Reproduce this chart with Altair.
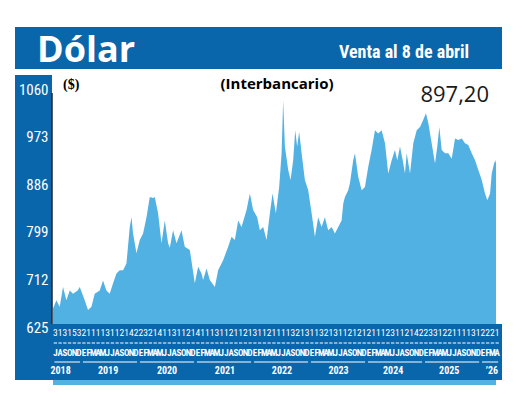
import altair as alt
import pandas as pd

# ---- data ----
# time position in months since 1 July 2018
month_pos = [0.0, 0.72, 1.41, 2.11, 2.82, 3.52, 4.21, 5.20, 5.63, 6.68, 7.37, 8.09, 8.78, 9.84,
             10.53, 11.25, 11.94, 12.64, 13.36, 14.05, 14.75, 15.46, 16.16, 16.52, 16.85, 17.57,
             18.26, 18.96, 19.68, 20.37, 21.07, 21.42, 22.12, 22.84, 23.53, 24.23, 24.58, 25.28,
             26.00, 27.05, 27.74, 28.80, 29.85, 30.55, 31.26, 31.60, 32.32, 33.01, 34.07, 34.76,
             35.81, 36.87, 37.58, 38.28, 38.98, 39.69, 40.74, 41.44, 42.13, 42.98, 43.54, 44.24,
             44.96, 45.65, 46.22, 46.91, 47.61, 48.12, 48.45, 48.81, 49.51, 50.01, 50.56, 50.98,
             51.40, 51.82, 52.33, 53.02, 53.72, 54.44, 55.13, 55.82, 56.54, 57.23, 57.93, 58.65,
             59.34, 60.04, 60.75, 61.10, 61.45, 62.14, 62.50, 63.20, 63.56, 64.25, 64.97, 65.66,
             66.36, 67.07, 67.77, 68.46, 69.18, 69.88, 70.57, 71.29, 71.98, 72.47, 73.04, 73.61,
             74.09, 74.45, 75.15, 75.84, 76.56, 77.26, 77.94, 78.51, 79.00, 79.71, 80.41, 80.89,
             81.32, 81.82, 82.52, 83.21, 83.93, 84.62, 85.32, 86.03, 86.73, 87.42, 88.14, 88.84,
             89.53, 90.25, 90.94, 91.43, 92.00, 92.35, 92.84, 93.12, 93.25]
dollar = [659, 674, 662, 698, 674, 692, 686, 692, 698, 674, 656, 662, 686, 692,
          710, 692, 686, 705, 723, 729, 729, 741, 808, 826, 796, 760,
          784, 796, 826, 863, 861, 863, 833, 778, 820, 778, 770, 802,
          778, 802, 772, 766, 705, 735, 723, 711, 732, 711, 698, 729,
          747, 772, 790, 784, 820, 808, 839, 869, 839, 826, 802, 808,
          784, 833, 869, 833, 881, 943, 1040, 955, 912, 894, 930, 985,
          955, 982, 943, 894, 875, 833, 790, 826, 808, 826, 802, 808,
          796, 808, 820, 851, 863, 875, 888, 930, 943, 900, 875, 881,
          918, 949, 985, 979, 985, 961, 906, 930, 949, 930, 955, 930,
          906, 943, 906, 961, 985, 991, 1004, 1016, 998, 961, 924, 955,
          991, 949, 943, 943, 933, 970, 967, 970, 961, 958, 943, 930,
          912, 894, 869, 857, 869, 906, 924, 930, 925]

y_ticks = [625, 712, 799, 886, 973, 1060]

month_letters = ["J", "A", "S", "O", "N", "D",
                 "E", "F", "M", "A", "M", "J", "J", "A", "S", "O", "N", "D",
                 "E", "F", "M", "A", "M", "J", "J", "A", "S", "O", "N", "D",
                 "E", "F", "M", "A", "M", "J", "J", "A", "S", "O", "N", "D",
                 "E", "F", "M", "A", "M", "J", "J", "A", "S", "O", "N", "D",
                 "E", "F", "M", "A", "M", "J", "J", "A", "S", "O", "N", "D",
                 "E", "F", "M", "A", "M", "J", "J", "A", "S", "O", "N", "D",
                 "E", "F", "M", "A", "M", "J", "J", "A", "S", "O", "N", "D",
                 "E", "F", "M", "A"]
month_digits = ["3", "1", "3", "1", "5", "3", "2", "1", "1", "1", "1", "3", "1", "1", "2", "1",
                "4", "2", "2", "3", "2", "1", "4", "1", "1", "3", "1", "1", "2", "1", "4", "1",
                "1", "1", "3", "1", "1", "2", "1", "1", "2", "1", "3", "1",
                "1", "2", "1", "1", "1", "1", "3", "2", "1", "3", "1", "1", "3", "2", "1", "3",
                "1", "1", "2", "1", "2", "1", "2", "1", "1", "1", "2", "3", "1", "1", "2", "1",
                "4", "2", "2", "3", "3", "1", "2", "2", "1", "1", "1", "1", "3", "1", "2", "2",
                "2", "1"]

year_names = ["2018", "2019", "2020", "2021", "2022", "2023", "2024", "2025", "\u201926"]
year_start = [0, 6, 18, 30, 42, 54, 66, 78, 90]
year_end = [6, 18, 30, 42, 54, 66, 78, 90, 94]
year_label_pos = [1.6, 11.6, 24.0, 36.2, 48.2, 60.1, 71.6, 83.4, 92.4]

# ---- styling ----
BLUE = "#0a66ab"
AREA = "#52b1e3"
NARROW = "Roboto Condensed"
SANS = "Open Sans"

W, H = 443, 252

df = pd.DataFrame({"m": month_pos, "v": dollar})
df_months = pd.DataFrame({
    "mc": [i + 0.5 for i in range(len(month_letters))],
    "d0": [i + 0.15 for i in range(len(month_letters))],
    "d1": [i + 0.85 for i in range(len(month_letters))],
    "letter": month_letters,
    "digit": month_digits,
})
df_years = pd.DataFrame({
    "name": year_names,
    "s": [s + 0.3 for s in year_start],
    "e": [e - 0.3 for e in year_end],
    "p": year_label_pos,
})
one = pd.DataFrame({"a": [0]})

xscale = alt.Scale(domain=[0, 93.25], nice=False, zero=False)
yscale = alt.Scale(domain=[625, 1086], nice=False, zero=False)

area = alt.Chart(df).mark_area(color=AREA, opacity=1, interpolate="linear").encode(
    x=alt.X("m:Q", scale=xscale, axis=None),
    y=alt.Y("v:Q", scale=yscale,
            axis=alt.Axis(values=y_ticks, format="d", title=None, domain=False, ticks=False,
                          grid=False, labelColor="white", labelFont=NARROW, labelFontSize=15,
                          labelPadding=5, labelBaseline="middle", zindex=2)),
)

def rect(x0, x1, y0, y1, color):
    return alt.Chart(one).mark_rect(color=color).encode(
        x=alt.value(x0), x2=alt.value(x1), y=alt.value(y0), y2=alt.value(y1))

header = rect(-38, 449, -48, -6, BLUE)
left_strip = rect(-38, -1, 0, 305, BLUE)
bottom_strip = rect(-38, 449, 249, 305, BLUE)

left_line = alt.Chart(one).mark_rule(color="#1b2433", strokeWidth=1.5).encode(
    x=alt.value(-1), y=alt.value(18), y2=alt.value(249))

def label(txt, x, y, font, size, color, weight="normal", align="left"):
    return alt.Chart(one).mark_text(text=txt, font=font, fontSize=size, color=color,
                                    fontWeight=weight, align=align, baseline="alphabetic").encode(
        x=alt.value(x), y=alt.value(y))

title = label("Dólar", -16, -13, SANS, 36, "white", "bold")
subtitle = label("Venta al 8 de abril", 286, -17, NARROW, 18, "white", "bold")
unit = label("($)", 10, 14, "Liberation Serif", 14, "black", "bold")
inter = label("(Interbancario)", 224, 14, SANS, 15, "black", "bold", "center")
last = label("897,20", 436, 27, SANS, 22, "#1a1a1a", "normal", "right")

digits = alt.Chart(df_months).mark_text(font=NARROW, fontSize=9.5, color="white",
                                        baseline="middle", align="center").encode(
    x=alt.X("mc:Q", scale=xscale, axis=None), y=alt.value(258), text="digit:N")
dashes = alt.Chart(df_months).mark_rule(color="white", strokeWidth=1).encode(
    x=alt.X("d0:Q", scale=xscale, axis=None), x2="d1:Q", y=alt.value(268))
letters = alt.Chart(df_months).mark_text(font=NARROW, fontSize=9, fontWeight="bold",
                                         color="white", baseline="middle", align="center").encode(
    x=alt.X("mc:Q", scale=xscale, axis=None), y=alt.value(278), text="letter:N")
underlines = alt.Chart(df_years).mark_rule(color="white", strokeWidth=1).encode(
    x=alt.X("s:Q", scale=xscale, axis=None), x2="e:Q", y=alt.value(287))
years = alt.Chart(df_years).mark_text(font=NARROW, fontSize=10, fontWeight="bold",
                                      color="white", baseline="middle", align="center").encode(
    x=alt.X("p:Q", scale=xscale, axis=None), y=alt.value(296), text="name:N")

chart = alt.layer(
    area, header, left_strip, bottom_strip, left_line,
    title, subtitle, unit, inter, last,
    digits, dashes, letters, underlines, years,
).properties(
    width=W, height=H,
    autosize=alt.AutoSizeParams(type="none"),
    padding={"left": 45, "top": 67, "right": 12, "bottom": 58},
    background="white",
).configure_view(stroke=None)

chart.save("out.html", embed_options={"renderer": "svg", "actions": False})
